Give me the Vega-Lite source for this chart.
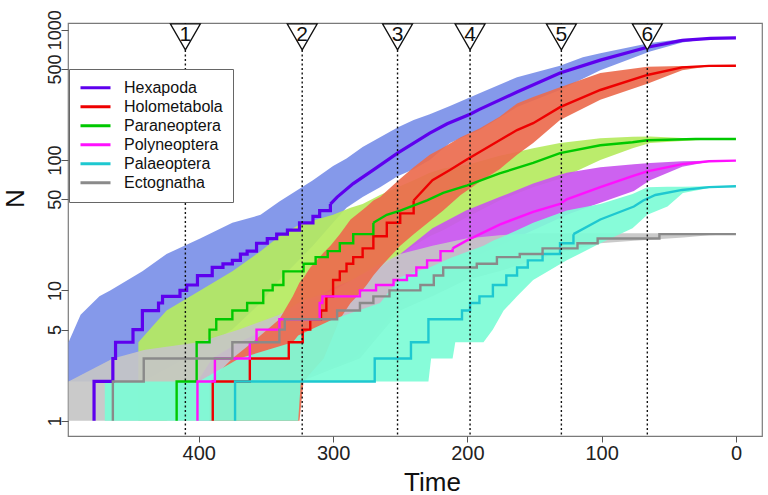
{
  "$schema": "https://vega.github.io/schema/vega-lite/v6.json",
  "width": 694,
  "height": 413,
  "autosize": {"type": "none"},
  "padding": {"left": 68, "top": 23, "right": 6, "bottom": 59},
  "background": "white",
  "config": {
    "view": {"stroke": "#7a7a7a", "strokeWidth": 1.2},
    "font": "Liberation Sans",
    "axis": {"grid": false}
  },
  "datasets": {
    "bands": [
      {"c":"Hexapoda","t":497,"N":2,"N2":4},{"c":"Hexapoda","t":488,"N":2,"N2":6.5},{"c":"Hexapoda","t":474,"N":2,"N2":9},{"c":"Hexapoda","t":466,"N":2,"N2":10},{"c":"Hexapoda","t":442,"N":2,"N2":14},{"c":"Hexapoda","t":424,"N":2.5,"N2":19},{"c":"Hexapoda","t":399,"N":3.5,"N2":25},{"c":"Hexapoda","t":375,"N":5,"N2":33},{"c":"Hexapoda","t":354,"N":8,"N2":38},{"c":"Hexapoda","t":340,"N":12,"N2":48},{"c":"Hexapoda","t":315,"N":22,"N2":70},{"c":"Hexapoda","t":300,"N":33,"N2":90},{"c":"Hexapoda","t":290,"N":43,"N2":103},{"c":"Hexapoda","t":278,"N":52,"N2":126},{"c":"Hexapoda","t":265,"N":62,"N2":150},{"c":"Hexapoda","t":252,"N":75,"N2":178},{"c":"Hexapoda","t":240,"N":85,"N2":203},{"c":"Hexapoda","t":228,"N":100,"N2":225},{"c":"Hexapoda","t":213,"N":135,"N2":260},{"c":"Hexapoda","t":191,"N":170,"N2":326},{"c":"Hexapoda","t":163,"N":255,"N2":432},{"c":"Hexapoda","t":131,"N":345,"N2":530},{"c":"Hexapoda","t":114,"N":420,"N2":615},{"c":"Hexapoda","t":101,"N":490,"N2":660},{"c":"Hexapoda","t":64,"N":680,"N2":790},{"c":"Hexapoda","t":40,"N":800,"N2":850},{"c":"Hexapoda","t":20,"N":855,"N2":862},{"c":"Hexapoda","t":0,"N":865,"N2":865},
      {"c":"Paraneoptera","t":445,"N":1,"N2":4},{"c":"Paraneoptera","t":424,"N":1,"N2":7},{"c":"Paraneoptera","t":399,"N":1.5,"N2":10},{"c":"Paraneoptera","t":375,"N":2,"N2":14},{"c":"Paraneoptera","t":354,"N":3,"N2":20},{"c":"Paraneoptera","t":340,"N":4,"N2":26},{"c":"Paraneoptera","t":325,"N":6,"N2":32},{"c":"Paraneoptera","t":300,"N":9,"N2":38},{"c":"Paraneoptera","t":287,"N":11,"N2":43},{"c":"Paraneoptera","t":278,"N":13,"N2":46},{"c":"Paraneoptera","t":265,"N":15,"N2":54},{"c":"Paraneoptera","t":252,"N":18,"N2":62},{"c":"Paraneoptera","t":240,"N":22,"N2":70},{"c":"Paraneoptera","t":228,"N":26,"N2":80},{"c":"Paraneoptera","t":218,"N":29,"N2":86},{"c":"Paraneoptera","t":200,"N":36.5,"N2":92},{"c":"Paraneoptera","t":176,"N":49,"N2":108},{"c":"Paraneoptera","t":151,"N":62,"N2":123},{"c":"Paraneoptera","t":131,"N":72,"N2":135},{"c":"Paraneoptera","t":101,"N":100,"N2":147},{"c":"Paraneoptera","t":77,"N":123,"N2":151},{"c":"Paraneoptera","t":64,"N":135,"N2":152},{"c":"Paraneoptera","t":40,"N":140,"N2":148},{"c":"Paraneoptera","t":20,"N":144,"N2":146},{"c":"Paraneoptera","t":0,"N":145,"N2":145},
      {"c":"Polyneoptera","t":401,"N":1,"N2":2},{"c":"Polyneoptera","t":390,"N":1,"N2":3},{"c":"Polyneoptera","t":370,"N":1.2,"N2":4},{"c":"Polyneoptera","t":350,"N":1.6,"N2":5},{"c":"Polyneoptera","t":330,"N":2,"N2":7},{"c":"Polyneoptera","t":320,"N":2.2,"N2":8},{"c":"Polyneoptera","t":310,"N":2.4,"N2":9},{"c":"Polyneoptera","t":300,"N":2.6,"N2":10.5},{"c":"Polyneoptera","t":285,"N":3,"N2":12},{"c":"Polyneoptera","t":280,"N":3.3,"N2":13},{"c":"Polyneoptera","t":265,"N":5,"N2":15},{"c":"Polyneoptera","t":250,"N":8,"N2":19},{"c":"Polyneoptera","t":226,"N":12,"N2":30},{"c":"Polyneoptera","t":201,"N":17,"N2":41},{"c":"Polyneoptera","t":176,"N":22,"N2":52},{"c":"Polyneoptera","t":151,"N":29,"N2":66},{"c":"Polyneoptera","t":131,"N":36,"N2":77},{"c":"Polyneoptera","t":126,"N":38,"N2":80},{"c":"Polyneoptera","t":101,"N":47,"N2":88},{"c":"Polyneoptera","t":76,"N":58,"N2":93},{"c":"Polyneoptera","t":64,"N":70,"N2":95},{"c":"Polyneoptera","t":40,"N":89,"N2":98},{"c":"Polyneoptera","t":20,"N":97,"N2":99},{"c":"Polyneoptera","t":0,"N":99,"N2":99},
      {"c":"Ectognatha","t":497,"N":1,"N2":2},{"c":"Ectognatha","t":464,"N":1,"N2":3},{"c":"Ectognatha","t":440,"N":1,"N2":3.5},{"c":"Ectognatha","t":400,"N":1,"N2":4},{"c":"Ectognatha","t":370,"N":1,"N2":5},{"c":"Ectognatha","t":340,"N":1,"N2":6.5},{"c":"Ectognatha","t":326,"N":1,"N2":8},{"c":"Ectognatha","t":324,"N":2,"N2":8.2},{"c":"Ectognatha","t":300,"N":2.5,"N2":10},{"c":"Ectognatha","t":280,"N":3,"N2":13},{"c":"Ectognatha","t":270,"N":4,"N2":15},{"c":"Ectognatha","t":250,"N":7,"N2":19},{"c":"Ectognatha","t":226,"N":9,"N2":22},{"c":"Ectognatha","t":201,"N":12,"N2":25},{"c":"Ectognatha","t":176,"N":14,"N2":26.5},{"c":"Ectognatha","t":151,"N":17,"N2":27.5},{"c":"Ectognatha","t":126,"N":20,"N2":27.5},{"c":"Ectognatha","t":101,"N":23,"N2":27.5},{"c":"Ectognatha","t":76,"N":24,"N2":27.5},{"c":"Ectognatha","t":39,"N":25.5,"N2":27.5},{"c":"Ectognatha","t":20,"N":26.5,"N2":27.2},{"c":"Ectognatha","t":0,"N":27,"N2":27},
      {"c":"Holometabola","t":392,"N":1,"N2":2},{"c":"Holometabola","t":375,"N":1,"N2":3},{"c":"Holometabola","t":360,"N":1,"N2":4},{"c":"Holometabola","t":340,"N":1,"N2":6},{"c":"Holometabola","t":330,"N":1,"N2":9},{"c":"Holometabola","t":325,"N":1,"N2":11.5},{"c":"Holometabola","t":322,"N":2,"N2":12.5},{"c":"Holometabola","t":317,"N":2.3,"N2":15},{"c":"Holometabola","t":307,"N":3,"N2":19.5},{"c":"Holometabola","t":302,"N":4,"N2":22},{"c":"Holometabola","t":295,"N":6,"N2":27},{"c":"Holometabola","t":287,"N":8,"N2":35},{"c":"Holometabola","t":280,"N":9.5,"N2":40},{"c":"Holometabola","t":275,"N":11,"N2":44},{"c":"Holometabola","t":270,"N":13,"N2":49},{"c":"Holometabola","t":265,"N":15,"N2":52},{"c":"Holometabola","t":250,"N":22,"N2":72},{"c":"Holometabola","t":240,"N":27,"N2":88},{"c":"Holometabola","t":228,"N":34,"N2":110},{"c":"Holometabola","t":218,"N":41,"N2":125},{"c":"Holometabola","t":205,"N":54,"N2":150},{"c":"Holometabola","t":191,"N":68,"N2":175},{"c":"Holometabola","t":176,"N":85,"N2":215},{"c":"Holometabola","t":163,"N":110,"N2":272},{"c":"Holometabola","t":151,"N":135,"N2":305},{"c":"Holometabola","t":131,"N":203,"N2":362},{"c":"Holometabola","t":101,"N":290,"N2":465},{"c":"Holometabola","t":66,"N":385,"N2":520},{"c":"Holometabola","t":40,"N":490,"N2":527},{"c":"Holometabola","t":20,"N":525,"N2":530},{"c":"Holometabola","t":0,"N":530,"N2":530},
      {"c":"Palaeoptera","t":470,"N":1,"N2":2},{"c":"Palaeoptera","t":400,"N":1,"N2":2},{"c":"Palaeoptera","t":370,"N":1,"N2":3},{"c":"Palaeoptera","t":330,"N":1,"N2":4},{"c":"Palaeoptera","t":326,"N":1,"N2":4.5},{"c":"Palaeoptera","t":324,"N":2,"N2":4.6},{"c":"Palaeoptera","t":300,"N":2,"N2":6},{"c":"Palaeoptera","t":265,"N":2,"N2":8},{"c":"Palaeoptera","t":250,"N":2,"N2":12.6},{"c":"Palaeoptera","t":229,"N":2,"N2":15},{"c":"Palaeoptera","t":227,"N":3,"N2":15.2},{"c":"Palaeoptera","t":211,"N":3,"N2":18},{"c":"Palaeoptera","t":209,"N":4,"N2":18.3},{"c":"Palaeoptera","t":188,"N":4,"N2":22},{"c":"Palaeoptera","t":181,"N":5,"N2":24},{"c":"Palaeoptera","t":173,"N":7,"N2":26},{"c":"Palaeoptera","t":163,"N":9,"N2":29},{"c":"Palaeoptera","t":151,"N":12,"N2":33},{"c":"Palaeoptera","t":126,"N":17,"N2":41},{"c":"Palaeoptera","t":101,"N":23,"N2":46},{"c":"Palaeoptera","t":77,"N":30,"N2":55},{"c":"Palaeoptera","t":66,"N":38,"N2":62},{"c":"Palaeoptera","t":51,"N":44,"N2":62.5},{"c":"Palaeoptera","t":39.5,"N":56,"N2":62.5},{"c":"Palaeoptera","t":20,"N":61,"N2":63},{"c":"Palaeoptera","t":0,"N":63,"N2":63}
    ],
    "medians": [
      {"c":"Hexapoda","s":"step","t":478,"N":1},{"c":"Hexapoda","s":"step","t":478,"N":2},{"c":"Hexapoda","s":"step","t":464,"N":3},{"c":"Hexapoda","s":"step","t":462,"N":4},{"c":"Hexapoda","s":"step","t":449,"N":5},{"c":"Hexapoda","s":"step","t":442,"N":7},{"c":"Hexapoda","s":"step","t":430,"N":8},{"c":"Hexapoda","s":"step","t":427,"N":9},{"c":"Hexapoda","s":"step","t":414,"N":10},{"c":"Hexapoda","s":"step","t":409,"N":11},{"c":"Hexapoda","s":"step","t":401,"N":13},{"c":"Hexapoda","s":"step","t":390,"N":15},{"c":"Hexapoda","s":"step","t":382,"N":16},{"c":"Hexapoda","s":"step","t":375,"N":17},{"c":"Hexapoda","s":"step","t":369,"N":19},{"c":"Hexapoda","s":"step","t":364,"N":20},{"c":"Hexapoda","s":"step","t":357,"N":23},{"c":"Hexapoda","s":"step","t":349,"N":25},{"c":"Hexapoda","s":"step","t":342,"N":27},{"c":"Hexapoda","s":"step","t":334,"N":29},{"c":"Hexapoda","s":"step","t":325,"N":33},{"c":"Hexapoda","s":"step","t":315,"N":37},{"c":"Hexapoda","s":"step","t":310,"N":41},{"c":"Hexapoda","s":"step","t":302,"N":46},
      {"c":"Hexapoda","s":"smooth","t":302,"N":46},{"c":"Hexapoda","s":"smooth","t":297,"N":52},{"c":"Hexapoda","s":"smooth","t":285,"N":66},{"c":"Hexapoda","s":"smooth","t":270,"N":84},{"c":"Hexapoda","s":"smooth","t":252,"N":113},{"c":"Hexapoda","s":"smooth","t":240,"N":135},{"c":"Hexapoda","s":"smooth","t":228,"N":161},{"c":"Hexapoda","s":"smooth","t":215,"N":190},{"c":"Hexapoda","s":"smooth","t":198,"N":225},{"c":"Hexapoda","s":"smooth","t":191,"N":245},{"c":"Hexapoda","s":"smooth","t":163,"N":333},{"c":"Hexapoda","s":"smooth","t":131,"N":465},{"c":"Hexapoda","s":"smooth","t":101,"N":585},{"c":"Hexapoda","s":"smooth","t":66,"N":735},{"c":"Hexapoda","s":"smooth","t":40,"N":830},{"c":"Hexapoda","s":"smooth","t":19,"N":860},{"c":"Hexapoda","s":"smooth","t":0,"N":865},
      {"c":"Holometabola","s":"step","t":389.6,"N":1},{"c":"Holometabola","s":"step","t":389.6,"N":2},{"c":"Holometabola","s":"step","t":362,"N":3},{"c":"Holometabola","s":"step","t":333,"N":4},{"c":"Holometabola","s":"step","t":322.6,"N":5},{"c":"Holometabola","s":"step","t":317,"N":6},{"c":"Holometabola","s":"step","t":309,"N":7},{"c":"Holometabola","s":"step","t":305,"N":9},{"c":"Holometabola","s":"step","t":300,"N":12},{"c":"Holometabola","s":"step","t":295,"N":14},{"c":"Holometabola","s":"step","t":290,"N":16},{"c":"Holometabola","s":"step","t":285,"N":18},{"c":"Holometabola","s":"step","t":278,"N":21},{"c":"Holometabola","s":"step","t":270,"N":26},{"c":"Holometabola","s":"step","t":260,"N":33},{"c":"Holometabola","s":"step","t":250,"N":39},{"c":"Holometabola","s":"step","t":240,"N":49},
      {"c":"Holometabola","s":"smooth","t":240,"N":49},{"c":"Holometabola","s":"smooth","t":226,"N":70},{"c":"Holometabola","s":"smooth","t":213,"N":84},{"c":"Holometabola","s":"smooth","t":201,"N":100},{"c":"Holometabola","s":"smooth","t":176,"N":142},{"c":"Holometabola","s":"smooth","t":163,"N":170},{"c":"Holometabola","s":"smooth","t":151,"N":192},{"c":"Holometabola","s":"smooth","t":131,"N":255},{"c":"Holometabola","s":"smooth","t":101,"N":345},{"c":"Holometabola","s":"smooth","t":66,"N":450},{"c":"Holometabola","s":"smooth","t":40,"N":515},{"c":"Holometabola","s":"smooth","t":20,"N":528},{"c":"Holometabola","s":"smooth","t":0,"N":530},
      {"c":"Paraneoptera","s":"step","t":416.5,"N":1},{"c":"Paraneoptera","s":"step","t":416.5,"N":2},{"c":"Paraneoptera","s":"step","t":401.6,"N":4},{"c":"Paraneoptera","s":"step","t":392,"N":5},{"c":"Paraneoptera","s":"step","t":387,"N":6},{"c":"Paraneoptera","s":"step","t":375,"N":7},{"c":"Paraneoptera","s":"step","t":364,"N":8},{"c":"Paraneoptera","s":"step","t":352,"N":10},{"c":"Paraneoptera","s":"step","t":345,"N":11},{"c":"Paraneoptera","s":"step","t":337,"N":14},{"c":"Paraneoptera","s":"step","t":322,"N":16},{"c":"Paraneoptera","s":"step","t":313,"N":18},{"c":"Paraneoptera","s":"step","t":304,"N":20},{"c":"Paraneoptera","s":"step","t":295,"N":23},{"c":"Paraneoptera","s":"step","t":285,"N":27},{"c":"Paraneoptera","s":"step","t":270,"N":33},
      {"c":"Paraneoptera","s":"smooth","t":270,"N":33},{"c":"Paraneoptera","s":"smooth","t":260,"N":38},{"c":"Paraneoptera","s":"smooth","t":250,"N":41},{"c":"Paraneoptera","s":"smooth","t":230,"N":49},{"c":"Paraneoptera","s":"smooth","t":218,"N":56},{"c":"Paraneoptera","s":"smooth","t":200,"N":64},{"c":"Paraneoptera","s":"smooth","t":176,"N":79},{"c":"Paraneoptera","s":"smooth","t":151,"N":95},{"c":"Paraneoptera","s":"smooth","t":131,"N":113},{"c":"Paraneoptera","s":"smooth","t":101,"N":130},{"c":"Paraneoptera","s":"smooth","t":77,"N":137},{"c":"Paraneoptera","s":"smooth","t":66,"N":142},{"c":"Paraneoptera","s":"smooth","t":30,"N":145},{"c":"Paraneoptera","s":"smooth","t":0,"N":145},
      {"c":"Polyneoptera","s":"step","t":401,"N":1},{"c":"Polyneoptera","s":"step","t":401,"N":2},{"c":"Polyneoptera","s":"step","t":388,"N":3},{"c":"Polyneoptera","s":"step","t":362,"N":4},{"c":"Polyneoptera","s":"step","t":357,"N":5},{"c":"Polyneoptera","s":"step","t":340,"N":6},{"c":"Polyneoptera","s":"step","t":310,"N":8},{"c":"Polyneoptera","s":"step","t":308,"N":9},{"c":"Polyneoptera","s":"step","t":280,"N":10},{"c":"Polyneoptera","s":"step","t":268,"N":11},{"c":"Polyneoptera","s":"step","t":255,"N":12},{"c":"Polyneoptera","s":"step","t":245,"N":13},{"c":"Polyneoptera","s":"step","t":238,"N":15},{"c":"Polyneoptera","s":"step","t":230,"N":17},{"c":"Polyneoptera","s":"step","t":220,"N":20},{"c":"Polyneoptera","s":"step","t":211,"N":21},
      {"c":"Polyneoptera","s":"smooth","t":211,"N":21},{"c":"Polyneoptera","s":"smooth","t":201,"N":24},{"c":"Polyneoptera","s":"smooth","t":176,"N":32},{"c":"Polyneoptera","s":"smooth","t":151,"N":40},{"c":"Polyneoptera","s":"smooth","t":131,"N":46},{"c":"Polyneoptera","s":"smooth","t":126,"N":50},{"c":"Polyneoptera","s":"smooth","t":101,"N":62},{"c":"Polyneoptera","s":"smooth","t":76,"N":76},{"c":"Polyneoptera","s":"smooth","t":66,"N":82},{"c":"Polyneoptera","s":"smooth","t":40,"N":93},{"c":"Polyneoptera","s":"smooth","t":20,"N":98},{"c":"Polyneoptera","s":"smooth","t":0,"N":99},
      {"c":"Palaeoptera","s":"step","t":373,"N":1},{"c":"Palaeoptera","s":"step","t":373,"N":2},{"c":"Palaeoptera","s":"step","t":269,"N":3},{"c":"Palaeoptera","s":"step","t":242,"N":4},{"c":"Palaeoptera","s":"step","t":229,"N":6},{"c":"Palaeoptera","s":"step","t":204,"N":7},{"c":"Palaeoptera","s":"step","t":198,"N":8},{"c":"Palaeoptera","s":"step","t":191,"N":9},{"c":"Palaeoptera","s":"step","t":181,"N":11},{"c":"Palaeoptera","s":"step","t":171,"N":13},{"c":"Palaeoptera","s":"step","t":163,"N":15},{"c":"Palaeoptera","s":"step","t":155,"N":17},{"c":"Palaeoptera","s":"step","t":144,"N":19},{"c":"Palaeoptera","s":"step","t":131,"N":23},{"c":"Palaeoptera","s":"step","t":121,"N":27},
      {"c":"Palaeoptera","s":"smooth","t":121,"N":27},{"c":"Palaeoptera","s":"smooth","t":101,"N":35},{"c":"Palaeoptera","s":"smooth","t":76,"N":44},{"c":"Palaeoptera","s":"smooth","t":69,"N":49},{"c":"Palaeoptera","s":"smooth","t":60,"N":54},{"c":"Palaeoptera","s":"smooth","t":40,"N":59},{"c":"Palaeoptera","s":"smooth","t":20,"N":62},{"c":"Palaeoptera","s":"smooth","t":0,"N":63},
      {"c":"Ectognatha","s":"step","t":464,"N":1},{"c":"Ectognatha","s":"step","t":464,"N":2},{"c":"Ectognatha","s":"step","t":441,"N":3},{"c":"Ectognatha","s":"step","t":375,"N":4},{"c":"Ectognatha","s":"step","t":340,"N":5},{"c":"Ectognatha","s":"step","t":336,"N":6},{"c":"Ectognatha","s":"step","t":297,"N":7},{"c":"Ectognatha","s":"step","t":280,"N":8},{"c":"Ectognatha","s":"step","t":270,"N":9},{"c":"Ectognatha","s":"step","t":258,"N":10},{"c":"Ectognatha","s":"step","t":235,"N":11},{"c":"Ectognatha","s":"step","t":225,"N":13},{"c":"Ectognatha","s":"step","t":218,"N":15},{"c":"Ectognatha","s":"step","t":193,"N":16},{"c":"Ectognatha","s":"step","t":178,"N":18},{"c":"Ectognatha","s":"step","t":161,"N":19},{"c":"Ectognatha","s":"step","t":144,"N":21},{"c":"Ectognatha","s":"step","t":118,"N":23},{"c":"Ectognatha","s":"step","t":103,"N":25},{"c":"Ectognatha","s":"step","t":57,"N":27},{"c":"Ectognatha","s":"step","t":0,"N":27}
    ],
    "events": [
      {"t":410,"label":"1"},{"t":323,"label":"2"},{"t":252,"label":"3"},{"t":198,"label":"4"},{"t":130,"label":"5"},{"t":66,"label":"6"}
    ]
  },
  "encoding": {
    "x": {"field": "t", "type": "quantitative", "scale": {"domain": [-19.4, 497.4], "reverse": true, "nice": false, "zero": false},
      "axis": {"values": [0,100,200,300,400], "title": "Time", "grid": false, "domain": false, "tickSize": 6, "tickColor": "#555", "tickWidth": 1, "labelFontSize": 20, "labelFont": "Liberation Sans", "labelColor": "#222", "labelPadding": 1, "titleFontSize": 26, "titleFont": "Liberation Sans", "titleFontWeight": "normal", "titleColor": "#111", "titleX": 364, "titleY": 54, "titleAlign": "center", "titleBaseline": "alphabetic"}}
  },
  "layer": [
    {
      "data": {"name": "bands"},
      "mark": {"type": "area", "interpolate": "linear", "fillOpacity": 0.92},
      "encoding": {
        "y": {"field": "N", "type": "quantitative", "scale": {"type": "log", "domain": [0.763, 1127], "nice": false, "zero": false},
          "axis": {"values": [1,5,10,50,100,500,1000], "format": "d", "title": "N", "grid": false, "domain": false, "tickSize": 7, "tickColor": "#555", "tickWidth": 1, "labelFontSize": 18, "labelFont": "Liberation Sans", "labelColor": "#222", "labelAngle": -90, "labelAlign": "center", "labelBaseline": "alphabetic", "labelPadding": 1, "labelOverlap": false, "labelFlush": false, "labelBound": false, "titleFontSize": 26, "titleFont": "Liberation Sans", "titleFontWeight": "normal", "titleColor": "#111", "titleAngle": 270, "titleX": -45, "titleY": 175, "titleAlign": "center", "titleBaseline": "alphabetic"}},
        "y2": {"field": "N2"},
        "fill": {"field": "c", "type": "nominal", "legend": null,
          "scale": {"domain": ["Hexapoda","Paraneoptera","Polyneoptera","Ectognatha","Holometabola","Palaeoptera"], "range": ["#7b90e8","#b5ea5f","#c955ef","#c6c6c6","#ec6b4e","#7dfcd6"]}}
      }
    },
    {
      "data": {"name": "medians"},
      "transform": [{"filter": "datum.s === 'step'"}],
      "mark": {"type": "line", "interpolate": "step-after"},
      "encoding": {
        "y": {"field": "N", "type": "quantitative", "scale": {"type": "log", "domain": [0.763, 1127], "nice": false, "zero": false}},
        "order": {"field": "t", "sort": "descending"},
        "color": {"field": "c", "type": "nominal",
          "scale": {"domain": ["Hexapoda","Holometabola","Paraneoptera","Polyneoptera","Palaeoptera","Ectognatha"], "range": ["#5e00ee","#ee0000","#00c800","#ff10ff","#1ec8d0","#8a8a8a"]},
          "legend": {"orient": "none", "legendX": 1, "legendY": 46, "title": null, "symbolType": "stroke", "symbolSize": 900, "symbolStrokeWidth": 3, "labelFontSize": 16, "labelFont": "Liberation Sans", "labelColor": "#111", "labelOffset": 12, "padding": 10, "rowPadding": 1, "clipHeight": 17.6, "strokeColor": "#666", "fillColor": "white", "symbolOffset": 0}},
        "strokeWidth": {"condition": {"test": "datum.c === 'Hexapoda'", "value": 3.2}, "value": 2.4}
      }
    },
    {
      "data": {"name": "medians"},
      "transform": [{"filter": "datum.s === 'smooth'"}],
      "mark": {"type": "line", "interpolate": "linear"},
      "encoding": {
        "y": {"field": "N", "type": "quantitative", "scale": {"type": "log", "domain": [0.763, 1127], "nice": false, "zero": false}},
        "order": {"field": "t", "sort": "descending"},
        "color": {"field": "c", "type": "nominal",
          "scale": {"domain": ["Hexapoda","Holometabola","Paraneoptera","Polyneoptera","Palaeoptera","Ectognatha"], "range": ["#5e00ee","#ee0000","#00c800","#ff10ff","#1ec8d0","#8a8a8a"]},
          "legend": {"orient": "none", "legendX": 1, "legendY": 46, "title": null, "symbolType": "stroke", "symbolSize": 900, "symbolStrokeWidth": 3, "labelFontSize": 16, "labelFont": "Liberation Sans", "labelColor": "#111", "labelOffset": 12, "padding": 10, "rowPadding": 1, "clipHeight": 17.6, "strokeColor": "#666", "fillColor": "white", "symbolOffset": 0}},
        "strokeWidth": {"condition": {"test": "datum.c === 'Hexapoda'", "value": 3.2}, "value": 2.4}
      }
    },
    {
      "data": {"name": "events"},
      "mark": {"type": "rule", "color": "#111", "strokeWidth": 1.4, "strokeDash": [2, 2.5]},
      "encoding": {}
    },
    {
      "data": {"name": "events"},
      "mark": {"type": "point", "shape": "triangle-down", "size": 900, "filled": true, "fill": "white", "stroke": "#111", "strokeWidth": 1.3, "opacity": 1},
      "encoding": {
        "y": {"datum": 881, "type": "quantitative", "scale": {"type": "log", "domain": [0.763, 1127], "nice": false, "zero": false}}
      }
    },
    {
      "data": {"name": "events"},
      "mark": {"type": "text", "fontSize": 21, "font": "Liberation Sans", "color": "#111", "baseline": "middle", "align": "center"},
      "encoding": {
        "y": {"datum": 912, "type": "quantitative", "scale": {"type": "log", "domain": [0.763, 1127], "nice": false, "zero": false}},
        "text": {"field": "label"}
      }
    }
  ]
}
